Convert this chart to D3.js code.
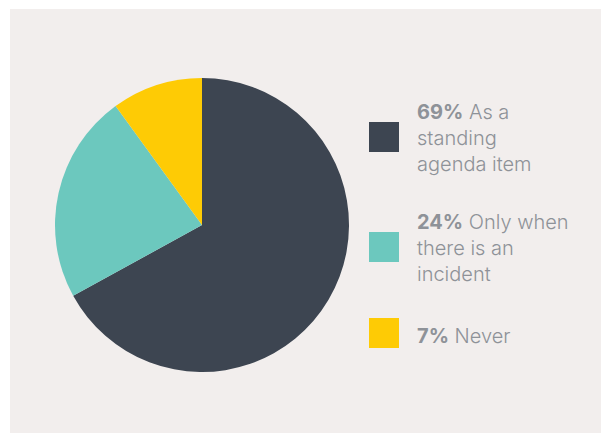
<!DOCTYPE html>
<html>
<head>
<meta charset="utf-8">
<script src="https://cdn.jsdelivr.net/npm/d3@7"></script>
<style>
  html, body { margin: 0; padding: 0; background: #ffffff; }
  svg { display: block; }
  .legend-text { font-family: Inter, "Noto Sans", sans-serif; font-size: 20px; fill: #8e9298; font-weight: 300; }
  .legend-text .pct { font-weight: 700; }
</style>
</head>
<body>
<svg width="602" height="433"></svg>
<script>
(function (d3) {
  'use strict';

  // slice sizes as drawn in the picture (the printed labels say 69 / 24 / 7)
  const categories = ['standing', 'incident', 'never'];
  const sliceValues = [67, 23, 10];
  const pctLabels = ['69%', '24%', '7%'];
  const labelLines = [
    ['As a', 'standing', 'agenda item'],
    ['Only when', 'there is an', 'incident'],
    ['Never']
  ];
  const colors = ['#3d4551', '#6cc8be', '#fecb05'];

  const svg = d3.select('svg');
  const width = +svg.attr('width');
  const height = +svg.attr('height');

  // panel behind everything
  svg.append('rect')
    .attr('x', 10)
    .attr('y', 9)
    .attr('width', width - 11)
    .attr('height', height - 9)
    .attr('fill', '#f2eeed');

  const radius = 147;
  const g = svg.append('g')
    .attr('transform', `translate(202,225)`);

  const pie = d3.pie().sort(null).value(d => d);
  const arc = d3.arc().innerRadius(0).outerRadius(radius);

  g.selectAll('path').data(pie(sliceValues))
    .enter().append('path')
      .attr('d', arc)
      .attr('fill', (d, i) => colors[i]);

  // legend - the gap before the last entry is smaller (one-line label)
  const squareY = [122, 232, 318];

  const legend = svg.selectAll('.legend').data(categories)
    .enter().append('g')
      .attr('class', 'legend')
      .attr('transform', (d, i) => `translate(369,${squareY[i]})`);

  legend.append('rect')
    .attr('width', 30)
    .attr('height', 30)
    .attr('fill', (d, i) => colors[i]);

  const lineHeight = 26;
  legend.each(function (d, i) {
    const lines = labelLines[i];
    const firstBaseline = lines.length === 1 ? 25 : -3;
    const text = d3.select(this).append('text')
      .attr('class', 'legend-text')
      .attr('x', 48)
      .attr('y', firstBaseline);
    lines.forEach((line, j) => {
      const ts = text.append('tspan')
        .attr('x', 48)
        .attr('y', firstBaseline + j * lineHeight);
      if (j === 0) {
        ts.append('tspan').attr('class', 'pct').text(pctLabels[i]);
        ts.append('tspan').text(' ' + line);
      } else {
        ts.text(line);
      }
    });
  });

}(d3));
</script>
</body>
</html>
